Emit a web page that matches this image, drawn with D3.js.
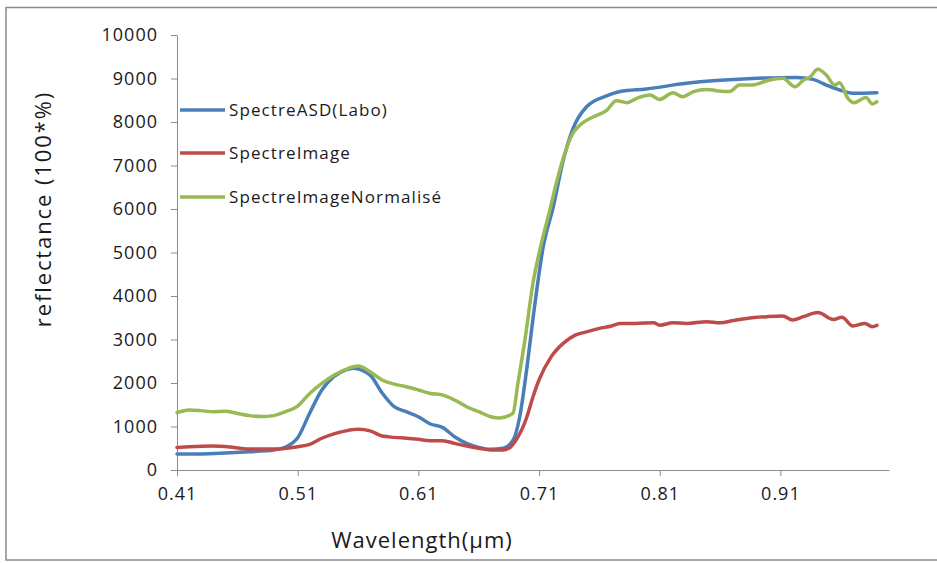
<!DOCTYPE html>
<html>
<head>
<meta charset="utf-8">
<script src="https://cdn.jsdelivr.net/npm/d3@7"></script>
<style>
  body { margin: 0; background: #fff; }
  svg text { font-family: "Open Sans", "Liberation Sans", sans-serif; fill: #1a1a1a; }
</style>
</head>
<body>
<div id="chart"></div>
<script>
// ! Data
var asd_wl  = [0.41, 0.43, 0.45, 0.47, 0.49, 0.50, 0.51, 0.52, 0.53, 0.54, 0.55, 0.556, 0.57, 0.58, 0.59, 0.60, 0.61, 0.62, 0.63, 0.64, 0.65, 0.66, 0.67, 0.68, 0.6886, 0.694, 0.6997, 0.7052, 0.7135, 0.7218, 0.7301, 0.7383, 0.7494, 0.766, 0.777, 0.799, 0.832, 0.887, 0.923, 0.937, 0.948, 0.959, 0.970, 0.990];
var asd_val = [370, 370, 390, 420, 460, 530, 740, 1310, 1840, 2145, 2300, 2340, 2180, 1770, 1455, 1340, 1225, 1057, 980, 766, 613, 520, 475, 500, 690, 1225, 2300, 3525, 5135, 6050, 7125, 7860, 8350, 8600, 8700, 8760, 8890, 9000, 9025, 8980, 8850, 8735, 8660, 8675];

var img_wl  = [0.41, 0.42, 0.44, 0.45, 0.47, 0.49, 0.51, 0.52, 0.53, 0.54, 0.55, 0.56, 0.57, 0.58, 0.59, 0.60, 0.61, 0.62, 0.63, 0.64, 0.65, 0.66, 0.67, 0.68, 0.685, 0.69, 0.70, 0.705, 0.71, 0.72, 0.73, 0.74, 0.75, 0.76, 0.77, 0.777, 0.79, 0.805, 0.81, 0.821, 0.832, 0.849, 0.86, 0.871, 0.882, 0.899, 0.912, 0.92, 0.929, 0.941, 0.954, 0.961, 0.970, 0.980, 0.986, 0.990];
var img_val = [520, 535, 550, 540, 480, 480, 535, 590, 730, 830, 900, 935, 900, 780, 750, 730, 705, 675, 675, 613, 550, 498, 460, 460, 498, 650, 1225, 1685, 2070, 2600, 2910, 3100, 3180, 3255, 3310, 3370, 3370, 3385, 3330, 3385, 3370, 3410, 3385, 3435, 3485, 3525, 3540, 3450, 3525, 3620, 3460, 3510, 3310, 3370, 3295, 3325];

var norm_wl  = [0.41, 0.42, 0.43, 0.44, 0.45, 0.46, 0.47, 0.48, 0.49, 0.50, 0.51, 0.52, 0.53, 0.54, 0.55, 0.56, 0.57, 0.58, 0.59, 0.60, 0.61, 0.62, 0.63, 0.64, 0.65, 0.66, 0.67, 0.6776, 0.6884, 0.6925, 0.6983, 0.705, 0.7107, 0.719, 0.7257, 0.7315, 0.7373, 0.744, 0.7547, 0.7663, 0.774, 0.783, 0.791, 0.802, 0.81, 0.821, 0.829, 0.838, 0.849, 0.857, 0.868, 0.876, 0.887, 0.899, 0.912, 0.922, 0.930, 0.934, 0.941, 0.948, 0.955, 0.959, 0.966, 0.971, 0.981, 0.986, 0.990];
var norm_val = [1320, 1380, 1365, 1340, 1350, 1300, 1250, 1230, 1250, 1340, 1470, 1760, 1990, 2180, 2315, 2390, 2260, 2070, 1975, 1915, 1840, 1760, 1725, 1610, 1455, 1340, 1225, 1195, 1310, 1995, 2990, 4300, 5060, 5980, 6740, 7290, 7700, 7930, 8115, 8275, 8490, 8445, 8545, 8620, 8520, 8675, 8580, 8700, 8750, 8720, 8700, 8850, 8850, 8950, 9005, 8810, 8980, 9020, 9210, 9080, 8850, 8900, 8545, 8445, 8565, 8415, 8465];

var series_names = ["SpectreASD(Labo)", "SpectreImage", "SpectreImageNormalisé"];
var series_colors = ["#4a7ebb", "#be4b48", "#98b954"];
var x_ticks = [0.41, 0.51, 0.61, 0.71, 0.81, 0.91];
var y_ticks = [0, 1000, 2000, 3000, 4000, 5000, 6000, 7000, 8000, 9000, 10000];

var series = [
  { name: series_names[0], color: series_colors[0], wl: asd_wl, val: asd_val },
  { name: series_names[1], color: series_colors[1], wl: img_wl, val: img_val },
  { name: series_names[2], color: series_colors[2], wl: norm_wl, val: norm_val }
];

// ! Layout
var width = 937, height = 563;
var plot_left = 177, plot_right = 889, plot_top = 35, plot_bottom = 470;

var svg = d3.select("#chart")
  .append("svg")
  .attr("width", width)
  .attr("height", height);

// outer frame
svg.append("rect")
  .attr("x", 6).attr("y", 7.5)
  .attr("width", 945).attr("height", 552.5)
  .attr("fill", "none")
  .attr("stroke", "#8c8c8c")
  .attr("stroke-width", 1.5);

var x = d3.scaleLinear().domain([0.41, 1.0]).range([plot_left, plot_right]);
var y = d3.scaleLinear().domain([0, 10000]).range([plot_bottom, plot_top]);

// x axis
var xAxis = svg.append("g")
  .attr("transform", "translate(0," + plot_bottom + ")")
  .call(d3.axisBottom(x).tickValues(x_ticks).tickFormat(d3.format(".2f")).tickSize(6).tickSizeOuter(0));
xAxis.select(".domain").attr("stroke", "#8c8c8c");
xAxis.selectAll(".tick line").attr("stroke", "#8c8c8c");
xAxis.selectAll(".tick text")
  .attr("y", 17)
  .style("font-size", "18px")
  .style("letter-spacing", "1px");

// y axis
var yAxis = svg.append("g")
  .attr("transform", "translate(" + plot_left + ",0)")
  .call(d3.axisLeft(y).tickValues(y_ticks).tickFormat(d3.format("d")).tickSize(6).tickSizeOuter(0));
yAxis.select(".domain").attr("stroke", "#8c8c8c");
yAxis.selectAll(".tick line").attr("stroke", "#8c8c8c");
yAxis.selectAll(".tick text")
  .attr("x", -19)
  .style("font-size", "18px")
  .style("letter-spacing", "1px");

// axis titles
svg.append("text")
  .attr("x", 422).attr("y", 548)
  .attr("text-anchor", "middle")
  .style("font-size", "22px")
  .style("letter-spacing", "1px")
  .text("Wavelength(μm)");

svg.append("text")
  .attr("transform", "translate(51,209) rotate(-90)")
  .attr("text-anchor", "middle")
  .style("font-size", "22px")
  .style("letter-spacing", "1.9px")
  .text("reflectance (100*%)");

// lines
var line = d3.line()
  .x(function(d) { return x(d[0]); })
  .y(function(d) { return y(d[1]); })
  .curve(d3.curveMonotoneX);

svg.selectAll(".spectre")
  .data(series)
  .enter()
  .append("path")
  .attr("class", "spectre")
  .attr("fill", "none")
  .attr("stroke", function(d) { return d.color; })
  .attr("stroke-width", 3.5)
  .attr("stroke-linejoin", "round")
  .attr("stroke-linecap", "round")
  .attr("d", function(d) { return line(d3.zip(d.wl, d.val)); });

// legend
var legend_y = [110, 153, 197];
var legend = svg.selectAll(".legend")
  .data(series)
  .enter()
  .append("g")
  .attr("class", "legend")
  .attr("transform", function(d, i) { return "translate(180," + legend_y[i] + ")"; });

legend.append("line")
  .attr("x1", 0).attr("x2", 45)
  .attr("stroke", function(d) { return d.color; })
  .attr("stroke-width", 3.5);

legend.append("text")
  .attr("x", 49)
  .attr("dy", "0.35em")
  .style("font-size", "17px")
  .style("letter-spacing", "1.1px")
  .text(function(d) { return d.name; });
</script>
</body>
</html>
